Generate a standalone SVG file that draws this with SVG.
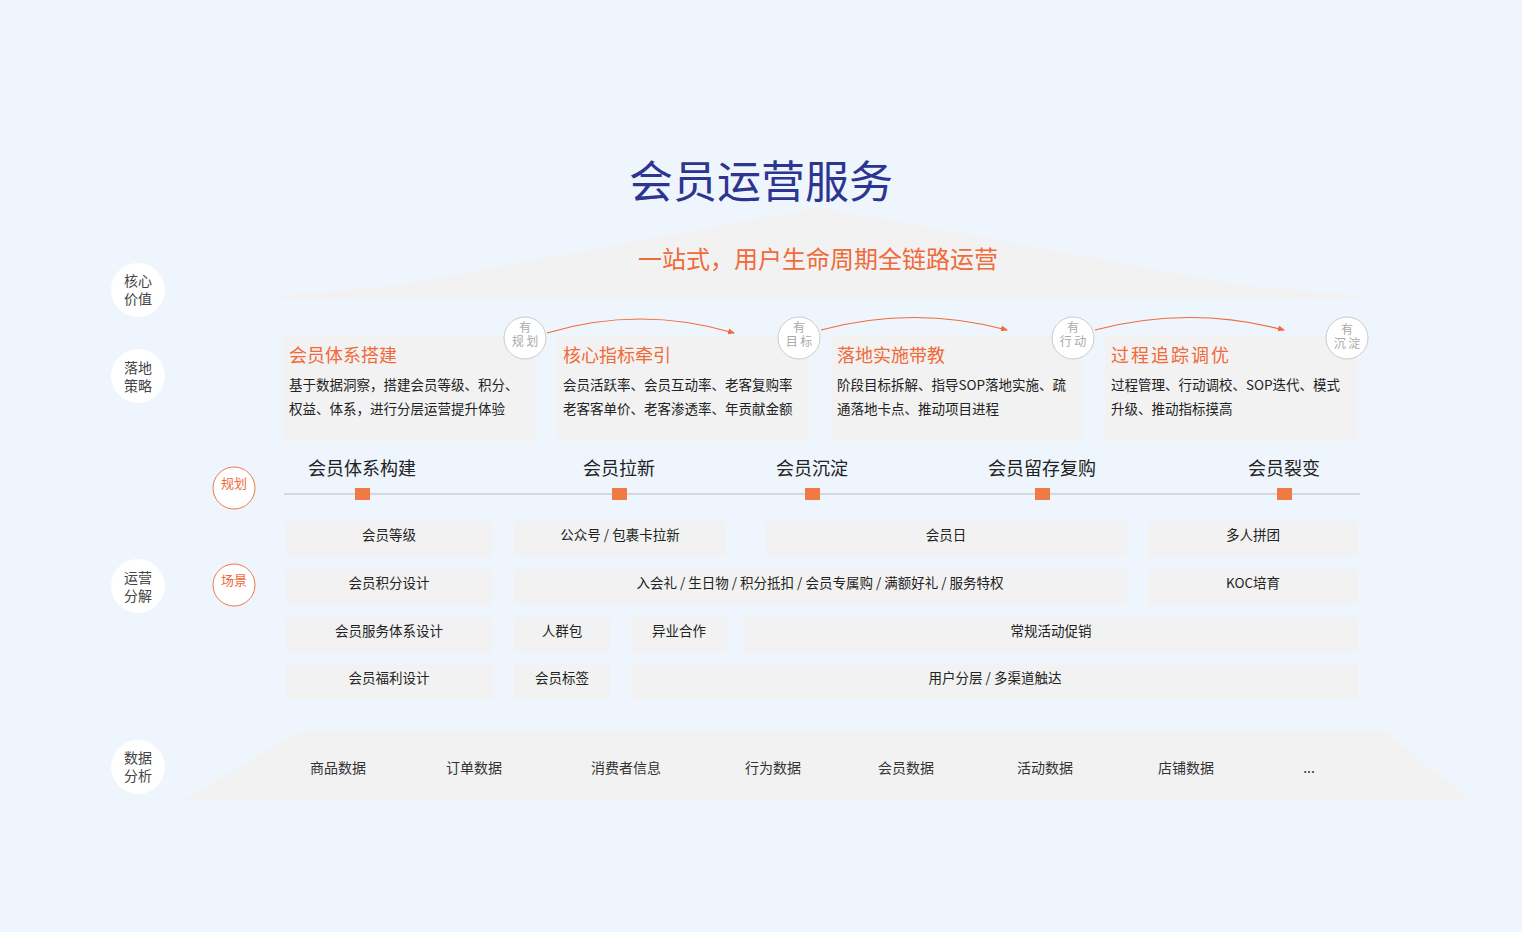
<svg xmlns="http://www.w3.org/2000/svg" width="1522" height="932" viewBox="0 0 1522 932">
<style>
text{font-family:"Noto Sans CJK SC","Liberation Sans",sans-serif}
.side{font-size:14px;fill:#444;text-anchor:middle}
.ct{font-size:18px;fill:#f06a3a}
.cd{font-size:13.5px;fill:#222}
.tag{font-size:12px;fill:#aaa;text-anchor:middle}
.stage{font-size:18px;fill:#222;text-anchor:middle}
.cell{fill:#f2f2f2}
.ctx{font-size:13.5px;fill:#222;text-anchor:middle}
.dt{font-size:14px;fill:#333;text-anchor:middle}
.arc{fill:none;stroke:#f06a3a;stroke-width:1.2;marker-end:url(#ah)}
</style>
<defs>
<marker id="ah" markerWidth="8" markerHeight="8" refX="6" refY="4" orient="auto" markerUnits="userSpaceOnUse"><path d="M0,1 L7,4 L0,7 Z" fill="#f06a3a"/></marker>
</defs>
<rect width="1522" height="932" fill="#eef5fd"/>
<polygon points="258,298 400,285 820,207 1240,285 1385,298" fill="#f2f2f2"/>
<text x="761" y="198" font-size="44" fill="#2d3590" text-anchor="middle">会员运营服务</text>
<text x="818" y="268" font-size="24" fill="#f06a3a" text-anchor="middle">一站式，用户生命周期全链路运营</text>

<g id="side">
<circle cx="138" cy="290" r="27" fill="#fff"/><text class="side" x="138" y="286">核心</text><text class="side" x="138" y="304">价值</text>
<circle cx="138" cy="376" r="27" fill="#fff"/><text class="side" x="138" y="373">落地</text><text class="side" x="138" y="391">策略</text>
<circle cx="138" cy="586" r="27" fill="#fff"/><text class="side" x="138" y="583">运营</text><text class="side" x="138" y="601">分解</text>
<circle cx="138" cy="767" r="27" fill="#fff"/><text class="side" x="138" y="763">数据</text><text class="side" x="138" y="781">分析</text>
</g>

<g id="card1"><rect x="283" y="336" width="252" height="105" fill="#f2f2f2"/><text class="ct" x="289" y="362">会员体系搭建</text><text class="cd" x="289" y="390">基于数据洞察，搭建会员等级、积分、</text><text class="cd" x="289" y="414">权益、体系，进行分层运营提升体验</text></g>
<g id="card2"><rect x="557" y="336" width="252" height="105" fill="#f2f2f2"/><text class="ct" x="563" y="362">核心指标牵引</text><text class="cd" x="563" y="390">会员活跃率、会员互动率、老客复购率</text><text class="cd" x="563" y="414">老客客单价、老客渗透率、年贡献金额</text></g>
<g id="card3"><rect x="831" y="336" width="252" height="105" fill="#f2f2f2"/><text class="ct" x="837" y="362">落地实施带教</text><text class="cd" x="837" y="390">阶段目标拆解、指导SOP落地实施、疏</text><text class="cd" x="837" y="414">通落地卡点、推动项目进程</text></g>
<g id="card4"><rect x="1105" y="336" width="252" height="105" fill="#f2f2f2"/><text class="ct" x="1111" y="362" letter-spacing="2">过程追踪调优</text><text class="cd" x="1111" y="390">过程管理、行动调校、SOP迭代、模式</text><text class="cd" x="1111" y="414">升级、推动指标摸高</text></g>

<g id="tags" stroke="#ccc" fill="#fff">
<circle cx="525" cy="338" r="21"/><circle cx="799" cy="338" r="21"/><circle cx="1073" cy="338" r="21"/><circle cx="1347" cy="338" r="21"/>
</g>
<g id="tagtext">
<text class="tag" x="525" y="332">有</text><text class="tag" x="525" y="346">规 划</text>
<text class="tag" x="799" y="332">有</text><text class="tag" x="799" y="346">目 标</text>
<text class="tag" x="1073" y="332">有</text><text class="tag" x="1073" y="346">行 动</text>
<text class="tag" x="1347" y="334">有</text><text class="tag" x="1347" y="348">沉 淀</text>
</g>
<g id="connectors">
<path class="arc" d="M547,333 Q640,305 734,333"/>
<path class="arc" d="M821,330 Q914,305 1007,330"/>
<path class="arc" d="M1095,330 Q1190,305 1284,330"/>
</g>

<g id="timeline">
<line x1="284" y1="494" x2="1360" y2="494" stroke="#bbb" stroke-width="1"/>
<text class="stage" x="362" y="475">会员体系构建</text><rect x="355" y="488" width="15" height="12" fill="#f07a45"/>
<text class="stage" x="619" y="475">会员拉新</text><rect x="612" y="488" width="15" height="12" fill="#f07a45"/>
<text class="stage" x="812" y="475">会员沉淀</text><rect x="805" y="488" width="15" height="12" fill="#f07a45"/>
<text class="stage" x="1042" y="475">会员留存复购</text><rect x="1035" y="488" width="15" height="12" fill="#f07a45"/>
<text class="stage" x="1284" y="475">会员裂变</text><rect x="1277" y="488" width="15" height="12" fill="#f07a45"/>
</g>
<g id="labels" fill="#fff" stroke="#f07a45">
<circle cx="234" cy="488" r="21"/><circle cx="234" cy="585" r="21"/>
</g>
<text x="234" y="488" font-size="13" fill="#f06a3a" text-anchor="middle">规划</text>
<text x="234" y="585" font-size="13" fill="#f06a3a" text-anchor="middle">场景</text>

<g id="grid">
<rect class="cell" x="286" y="521" width="207" height="36"/><text class="ctx" x="389" y="540">会员等级</text>
<rect class="cell" x="514" y="521" width="212" height="36"/><text class="ctx" x="620" y="540">公众号 / 包裹卡拉新</text>
<rect class="cell" x="766" y="521" width="361" height="36"/><text class="ctx" x="946" y="540">会员日</text>
<rect class="cell" x="1148" y="521" width="210" height="36"/><text class="ctx" x="1253" y="540">多人拼团</text>
<rect class="cell" x="286" y="569" width="207" height="36"/><text class="ctx" x="389" y="588">会员积分设计</text>
<rect class="cell" x="514" y="569" width="613" height="36"/><text class="ctx" x="820" y="588">入会礼 / 生日物 / 积分抵扣 / 会员专属购 / 满额好礼 / 服务特权</text>
<rect class="cell" x="1148" y="569" width="210" height="36"/><text class="ctx" x="1253" y="588">KOC培育</text>
<rect class="cell" x="286" y="617" width="207" height="36"/><text class="ctx" x="389" y="636">会员服务体系设计</text>
<rect class="cell" x="514" y="617" width="96" height="36"/><text class="ctx" x="562" y="636">人群包</text>
<rect class="cell" x="631" y="617" width="96" height="36"/><text class="ctx" x="679" y="636">异业合作</text>
<rect class="cell" x="744" y="617" width="614" height="36"/><text class="ctx" x="1051" y="636">常规活动促销</text>
<rect class="cell" x="286" y="664" width="207" height="36"/><text class="ctx" x="389" y="683">会员福利设计</text>
<rect class="cell" x="514" y="664" width="96" height="36"/><text class="ctx" x="562" y="683">会员标签</text>
<rect class="cell" x="631" y="664" width="727" height="36"/><text class="ctx" x="995" y="683">用户分层 / 多渠道触达</text>
</g>

<g id="data">
<polygon points="183,800 300,731 1385,731 1470,800" fill="#f2f2f2"/>
<text class="dt" x="338" y="773">商品数据</text>
<text class="dt" x="474" y="773">订单数据</text>
<text class="dt" x="626" y="773">消费者信息</text>
<text class="dt" x="773" y="773">行为数据</text>
<text class="dt" x="906" y="773">会员数据</text>
<text class="dt" x="1045" y="773">活动数据</text>
<text class="dt" x="1186" y="773">店铺数据</text>
<text class="dt" x="1309" y="773">...</text>
</g>
</svg>
